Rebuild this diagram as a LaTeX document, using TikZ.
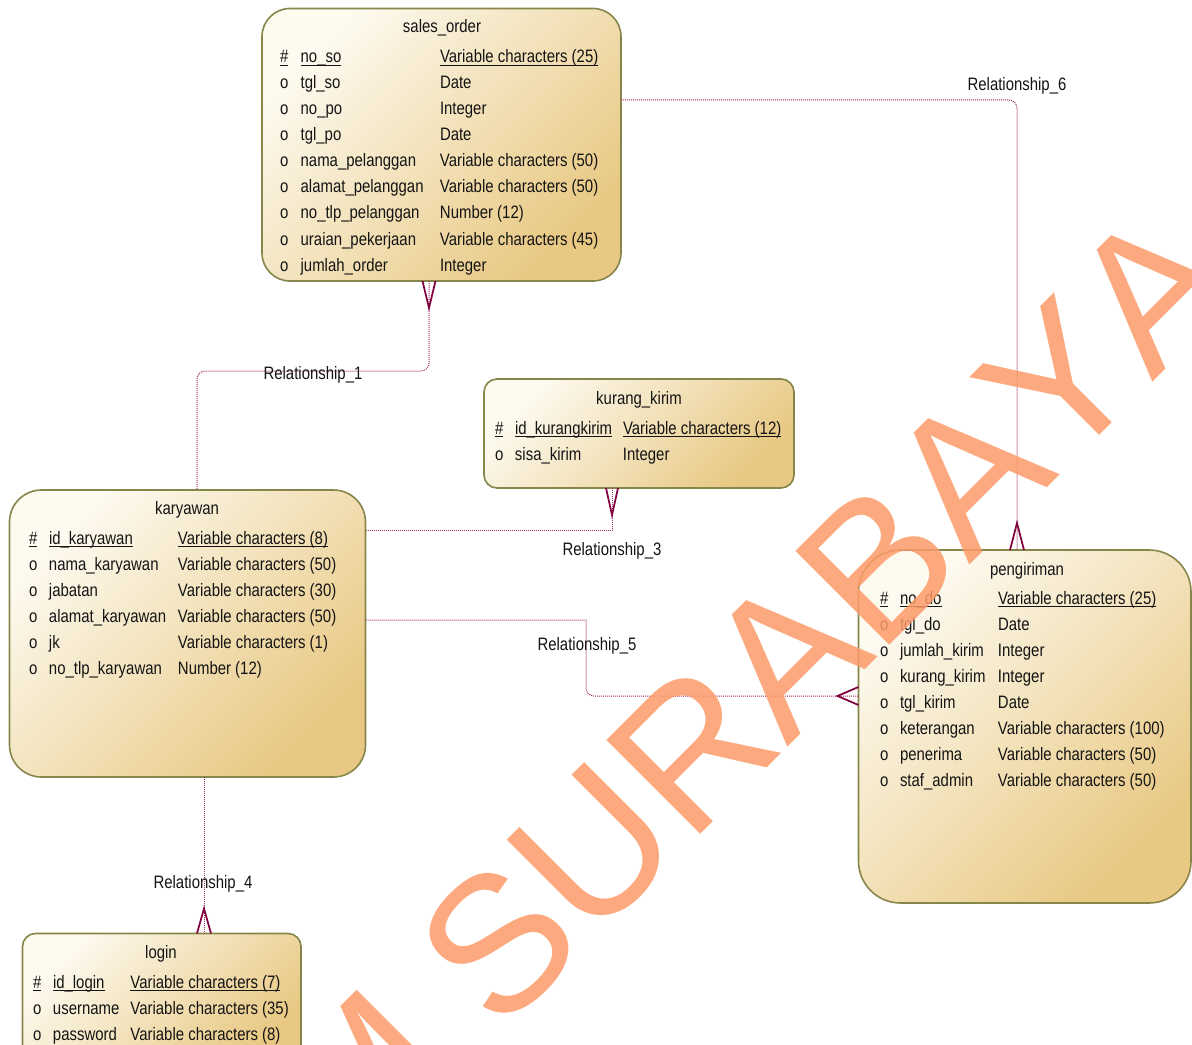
\documentclass[tikz,border=0pt]{standalone}
\usepackage{fontspec}
\setmainfont{Liberation Sans}[FakeStretch=0.83]
\newfontfamily\wmfont{Liberation Sans}[Kerning=Off]
\definecolor{creamc}{RGB}{253,250,240}
\definecolor{tanc}{RGB}{232,200,130}
\definecolor{borderc}{RGB}{134,134,74}
\definecolor{relc}{RGB}{160,40,100}
\definecolor{crowc}{RGB}{128,0,64}
\definecolor{txtc}{RGB}{20,20,20}
\definecolor{wmc}{RGB}{253,155,106}
\newcommand\erfont{\fontsize{13.5}{16}\selectfont}
\newcommand\myul[1]{\setbox0\hbox{#1}\rlap{\rule[-2.4pt]{\wd0}{0.75pt}}\box0}
\newcommand\erow[7]{\node[row] (#1) at (#2) {\makebox[#3][l]{#5}\makebox[#4][l]{#6}#7};}
\newcommand\pkrow[7]{\node[row] (#1) at (#2) {\makebox[#3][l]{\myul{#5}}\makebox[#4][l]{\myul{#6}}\myul{#7}};}
\begin{document}
\begin{tikzpicture}[x=0.75pt,y=-0.75pt,
  entity/.style={draw=borderc, line width=1.2pt, top color=creamc, bottom color=tanc, shading angle=45, inner sep=0pt, outer sep=0pt},
  row/.style={inner sep=0pt, outer sep=0pt, anchor=base west, font=\erfont, text=txtc},
  ttl/.style={inner sep=0pt, outer sep=0pt, anchor=base, font=\erfont, text=txtc},
  lbl/.style={inner sep=0pt, outer sep=0pt, anchor=base, font=\erfont, text=txtc},
  rel/.style={draw=relc, line width=0.75pt, dash pattern=on 0.75pt off 0.75pt},
  crow/.style={draw=crowc, line width=1.3pt, line join=miter},
  wm/.style={inner sep=0pt, outer sep=0pt, anchor=base west, rotate=45, font=\wmfont\fontsize{144.75}{150}\selectfont, text=wmc, text opacity=0.85}
]
\clip (0,0) rectangle (1192,1045);
\fill[white] (0,0) rectangle (1192,1045);

% entities
\node[entity, minimum width=269.25pt, minimum height=204.4pt, rounded corners=21pt] (so) at (441.5,144.75) {};
\node[entity, minimum width=232.5pt, minimum height=81.75pt, rounded corners=9.75pt] (kk) at (639,433.5) {};
\node[entity, minimum width=267pt, minimum height=215.25pt, rounded corners=24pt] (kar) at (187.5,633.5) {};
\node[entity, minimum width=249.4pt, minimum height=264.75pt, rounded corners=31.5pt] (peng) at (1024.75,726.5) {};
\node[entity, minimum width=208.9pt, minimum height=100.9pt, rounded corners=9.75pt] (login) at (161.75,1000.75) {};

% sales_order
\node[ttl] (so-t) at (442,33) {sales\_order};
\pkrow{so1}{280,63}{15.5pt}{104.5pt}{\#}{no\_so}{Variable characters (25)}
\erow{so2}{280,89}{15.5pt}{104.5pt}{o}{tgl\_so}{Date}
\erow{so3}{280,115}{15.5pt}{104.5pt}{o}{no\_po}{Integer}
\erow{so4}{280,141}{15.5pt}{104.5pt}{o}{tgl\_po}{Date}
\erow{so5}{280,167}{15.5pt}{104.5pt}{o}{nama\_pelanggan}{Variable characters (50)}
\erow{so6}{280,193}{15.5pt}{104.5pt}{o}{alamat\_pelanggan}{Variable characters (50)}
\erow{so7}{280,219}{15.5pt}{104.5pt}{o}{no\_tlp\_pelanggan}{Number (12)}
\erow{so8}{280,245}{15.5pt}{104.5pt}{o}{uraian\_pekerjaan}{Variable characters (45)}
\erow{so9}{280,271}{15.5pt}{104.5pt}{o}{jumlah\_order}{Integer}

% kurang_kirim
\node[ttl] (kk-t) at (639,404) {kurang\_kirim};
\pkrow{kk1}{495,434}{15pt}{81pt}{\#}{id\_kurangkirim}{Variable characters (12)}
\erow{kk2}{495,460}{15pt}{81pt}{o}{sisa\_kirim}{Integer}

% karyawan
\node[ttl] (kar-t) at (187,514) {karyawan};
\pkrow{kar1}{29,544}{15pt}{96.75pt}{\#}{id\_karyawan}{Variable characters (8)}
\erow{kar2}{29,570}{15pt}{96.75pt}{o}{nama\_karyawan}{Variable characters (50)}
\erow{kar3}{29,596}{15pt}{96.75pt}{o}{jabatan}{Variable characters (30)}
\erow{kar4}{29,622}{15pt}{96.75pt}{o}{alamat\_karyawan}{Variable characters (50)}
\erow{kar5}{29,648}{15pt}{96.75pt}{o}{jk}{Variable characters (1)}
\erow{kar6}{29,674}{15pt}{96.75pt}{o}{no\_tlp\_karyawan}{Number (12)}

% pengiriman
\node[ttl] (peng-t) at (1027,575) {pengiriman};
\pkrow{pg1}{880,604}{15pt}{73.5pt}{\#}{no\_do}{Variable characters (25)}
\erow{pg2}{880,630}{15pt}{73.5pt}{o}{tgl\_do}{Date}
\erow{pg3}{880,656}{15pt}{73.5pt}{o}{jumlah\_kirim}{Integer}
\erow{pg4}{880,682}{15pt}{73.5pt}{o}{kurang\_kirim}{Integer}
\erow{pg5}{880,708}{15pt}{73.5pt}{o}{tgl\_kirim}{Date}
\erow{pg6}{880,734}{15pt}{73.5pt}{o}{keterangan}{Variable characters (100)}
\erow{pg7}{880,760}{15pt}{73.5pt}{o}{penerima}{Variable characters (50)}
\erow{pg8}{880,786}{15pt}{73.5pt}{o}{staf\_admin}{Variable characters (50)}

% login
\node[ttl] (login-t) at (161,958) {login};
\pkrow{lg1}{33,988}{15pt}{58.1pt}{\#}{id\_login}{Variable characters (7)}
\erow{lg2}{33,1014}{15pt}{58.1pt}{o}{username}{Variable characters (35)}
\erow{lg3}{33,1040}{15pt}{58.1pt}{o}{password}{Variable characters (8)}

% relationships
\draw[rel, rounded corners=6pt] ([xshift=-9.375pt]so.south) -- ++(0,90) -| ([xshift=7.125pt]kar.north);
\draw[crow] ([xshift=-9.375pt]so.south) ++(-6.5,0) -- ++(6.5,27) -- ++(6.5,-27);
\node[lbl] (l1) at (313,379) {Relationship\_1};

\draw[rel] ([yshift=77.625pt]kar.east) -| ([xshift=-20.25pt]kk.south);
\draw[crow] ([xshift=-20.25pt]kk.south) ++(-6,0) -- ++(6,27) -- ++(6,-27);
\node[lbl] (l3) at (612,555) {Relationship\_3};

\draw[rel] ([yshift=10.125pt]kar.east) -- (586,620) [rounded corners=6pt] -- (586,696) -- ([yshift=22.875pt]peng.west);
\draw[crow] ([yshift=22.875pt]peng.west) ++(0,-9) -- ++(-21,9) -- ++(21,9);
\node[lbl] (l5) at (587,650) {Relationship\_5};

\draw[rel, rounded corners=6pt] ([yshift=33.5625pt]so.east) -| ([xshift=-5.8125pt]peng.north);
\draw[crow] ([xshift=-5.8125pt]peng.north) ++(-7,0) -- ++(7,-27) -- ++(7,27);
\node[lbl] (l6) at (1017,91) {Relationship\_6};

\draw[rel] ([xshift=12.375pt]kar.south) -- ([xshift=31.6875pt]login.north);
\draw[crow] ([xshift=31.6875pt]login.north) ++(-7,0) -- ++(7,-25) -- ++(7,25);
\node[lbl] (l4) at (203,888) {Relationship\_4};

% watermark
\node[wm] (wm) at (-61.2,1596.2) {STIKOM SURABAYA};
\end{tikzpicture}
\end{document}
